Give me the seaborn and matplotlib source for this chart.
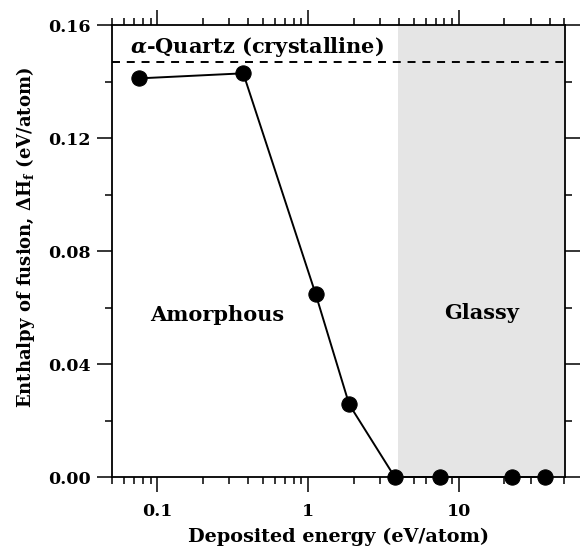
import matplotlib
matplotlib.use("Agg")
import matplotlib.pyplot as plt
from matplotlib.ticker import LogLocator, MultipleLocator, FixedLocator, FixedFormatter
import numpy as np
import pandas as pd
import seaborn as sns

# Enthalpy of fusion vs deposited energy
energy = [0.075, 0.371, 1.12, 1.87, 3.75, 7.44, 22.4, 37.3]
enthalpy = [0.1411, 0.1429, 0.0648, 0.0257, 0.0, 0.0, 0.0, 0.0]
quartz_enthalpy = 0.147
glassy_onset = 3.93

x_ticks = [0.1, 1, 10]
x_ticklabels = ["0.1", "1", "10"]
y_ticks = [0.00, 0.04, 0.08, 0.12, 0.16]
y_ticklabels = ["0.00", "0.04", "0.08", "0.12", "0.16"]

sns.set_style("ticks")
plt.rcParams["font.family"] = ["DejaVu Serif"]
plt.rcParams["font.weight"] = "bold"
plt.rcParams["mathtext.fontset"] = "dejavuserif"
plt.rcParams["axes.unicode_minus"] = False
plt.rcParams["text.color"] = "black"
plt.rcParams["axes.labelcolor"] = "black"
plt.rcParams["xtick.color"] = "black"
plt.rcParams["ytick.color"] = "black"

df = pd.DataFrame({"energy": energy, "enthalpy": enthalpy})

fig = plt.figure(figsize=(5.81, 5.57), dpi=100)
ax = fig.add_axes([0.1928, 0.1436, 0.9725 - 0.1928, 0.9551 - 0.1436])

ax.axvspan(glassy_onset, 100, color="#e5e5e5", lw=0, zorder=0)
ax.axhline(quartz_enthalpy, color="black", lw=1.4, ls=(0, (4.1, 3.5)), zorder=1)

sns.lineplot(data=df, x="energy", y="enthalpy", ax=ax, color="black",
             lw=1.4, marker="o", markersize=11, markeredgecolor="black",
             markerfacecolor="black", zorder=3, clip_on=False)

ax.set_xscale("log")
ax.set_xlim(0.05, 50.5)
ax.set_ylim(0, 0.16)

ax.tick_params(which="both", direction="out", top=True, right=True,
               width=1.1, labelsize=12.5, color="black", labelcolor="black")
ax.tick_params(which="major", length=10.5)
ax.tick_params(which="minor", length=5.2)
ax.tick_params(axis="x", which="major", pad=8)
ax.tick_params(axis="y", which="major", pad=5)
ax.minorticks_on()

ax.xaxis.set_major_locator(FixedLocator(x_ticks))
ax.xaxis.set_major_formatter(FixedFormatter(x_ticklabels))
ax.xaxis.set_minor_locator(LogLocator(base=10, subs=np.arange(2, 10)))
ax.yaxis.set_major_locator(FixedLocator(y_ticks))
ax.yaxis.set_major_formatter(FixedFormatter(y_ticklabels))
ax.yaxis.set_minor_locator(MultipleLocator(0.02))

for s in ax.spines.values():
    s.set_linewidth(1.3)
    s.set_color("black")
    s.set_visible(True)

ax.set_xlabel("Deposited energy (eV/atom)", fontsize=13.9, fontweight="bold", labelpad=6)
ax.set_ylabel(r"Enthalpy of fusion, $\mathbf{\Delta H_f}$ (eV/atom)",
              fontsize=13.0, fontweight="bold")
ax.yaxis.set_label_coords(-0.166, 0.529)

ax.text(0.066, 0.1522, r"$\alpha$-Quartz (crystalline)", fontsize=15,
        fontweight="bold", va="center", ha="left")
ax.text(0.249, 0.0573, "Amorphous", fontsize=15, fontweight="bold",
        va="center", ha="center")
ax.text(14.1, 0.058, "Glassy", fontsize=15, fontweight="bold",
        va="center", ha="center")

fig.savefig("out.png", dpi=100)
